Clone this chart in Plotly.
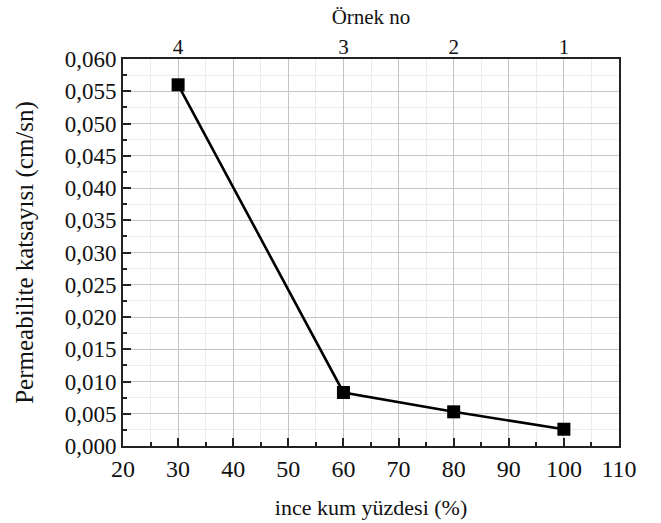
import plotly.graph_objects as go

# Permeability vs. fine sand percentage for four samples
ince_kum = [30, 60, 80, 100]
permeabilite = [0.0560, 0.0083, 0.0053, 0.0026]
ornek_no = ["4", "3", "2", "1"]

x_range = [20, 110]
y_range = [0, 0.060]

serif = "Liberation Serif"
axis_color = "#222222"
text_color = "#111111"
major_grid = "#c4c4c4"
minor_grid = "#ececec"


def f(size):
    return dict(family=serif, size=size, color=text_color)


fig = go.Figure()

fig.add_trace(go.Scatter(
    x=ince_kum,
    y=permeabilite,
    mode="lines+markers",
    line=dict(color="black", width=2.6),
    marker=dict(symbol="square", size=13, color="black"),
    showlegend=False,
))

# Invisible trace so the top axis (sample numbers) is rendered
fig.add_trace(go.Scatter(
    x=ince_kum,
    y=permeabilite,
    xaxis="x2",
    mode="markers",
    marker=dict(opacity=0),
    showlegend=False,
    hoverinfo="skip",
))

fig.update_layout(
    width=661,
    height=523,
    margin=dict(l=123, r=42, t=59, b=77),
    paper_bgcolor="white",
    plot_bgcolor="white",
    separators=",.",
    font=f(22),
    xaxis=dict(
        range=x_range,
        dtick=10,
        tick0=20,
        automargin=False,
        showline=True,
        linecolor=axis_color,
        linewidth=2,
        mirror=True,
        ticks="inside",
        ticklen=8,
        tickwidth=1.5,
        tickcolor=axis_color,
        showgrid=True,
        gridcolor=major_grid,
        gridwidth=1,
        zeroline=False,
        minor=dict(ticks="inside", ticklen=4, tickcolor=axis_color, dtick=5,
                   showgrid=True, gridcolor=minor_grid, gridwidth=1),
        tickfont=f(24),
        title=dict(text="ince kum yüzdesi (%)", font=f(22), standoff=19),
    ),
    xaxis2=dict(
        range=x_range,
        overlaying="x",
        side="top",
        automargin=False,
        tickmode="array",
        tickvals=ince_kum,
        ticktext=ornek_no,
        showline=False,
        showgrid=False,
        zeroline=False,
        ticks="",
        tickfont=f(21),
        title=dict(text="Örnek no", font=f(21), standoff=4),
    ),
    yaxis=dict(
        range=y_range,
        dtick=0.005,
        tick0=0,
        tickformat=".3f",
        automargin=False,
        showline=True,
        linecolor=axis_color,
        linewidth=2,
        mirror=True,
        ticks="inside",
        ticklen=8,
        tickwidth=1.5,
        tickcolor=axis_color,
        showgrid=True,
        gridcolor=major_grid,
        gridwidth=1,
        zeroline=False,
        minor=dict(ticks="inside", ticklen=4, tickcolor=axis_color, dtick=0.0025,
                   showgrid=True, gridcolor=minor_grid, gridwidth=1),
        tickfont=f(23),
        title=dict(text="Permeabilite katsayısı (cm/sn)", font=f(25), standoff=24),
    ),
)

fig.write_html("out.html")
